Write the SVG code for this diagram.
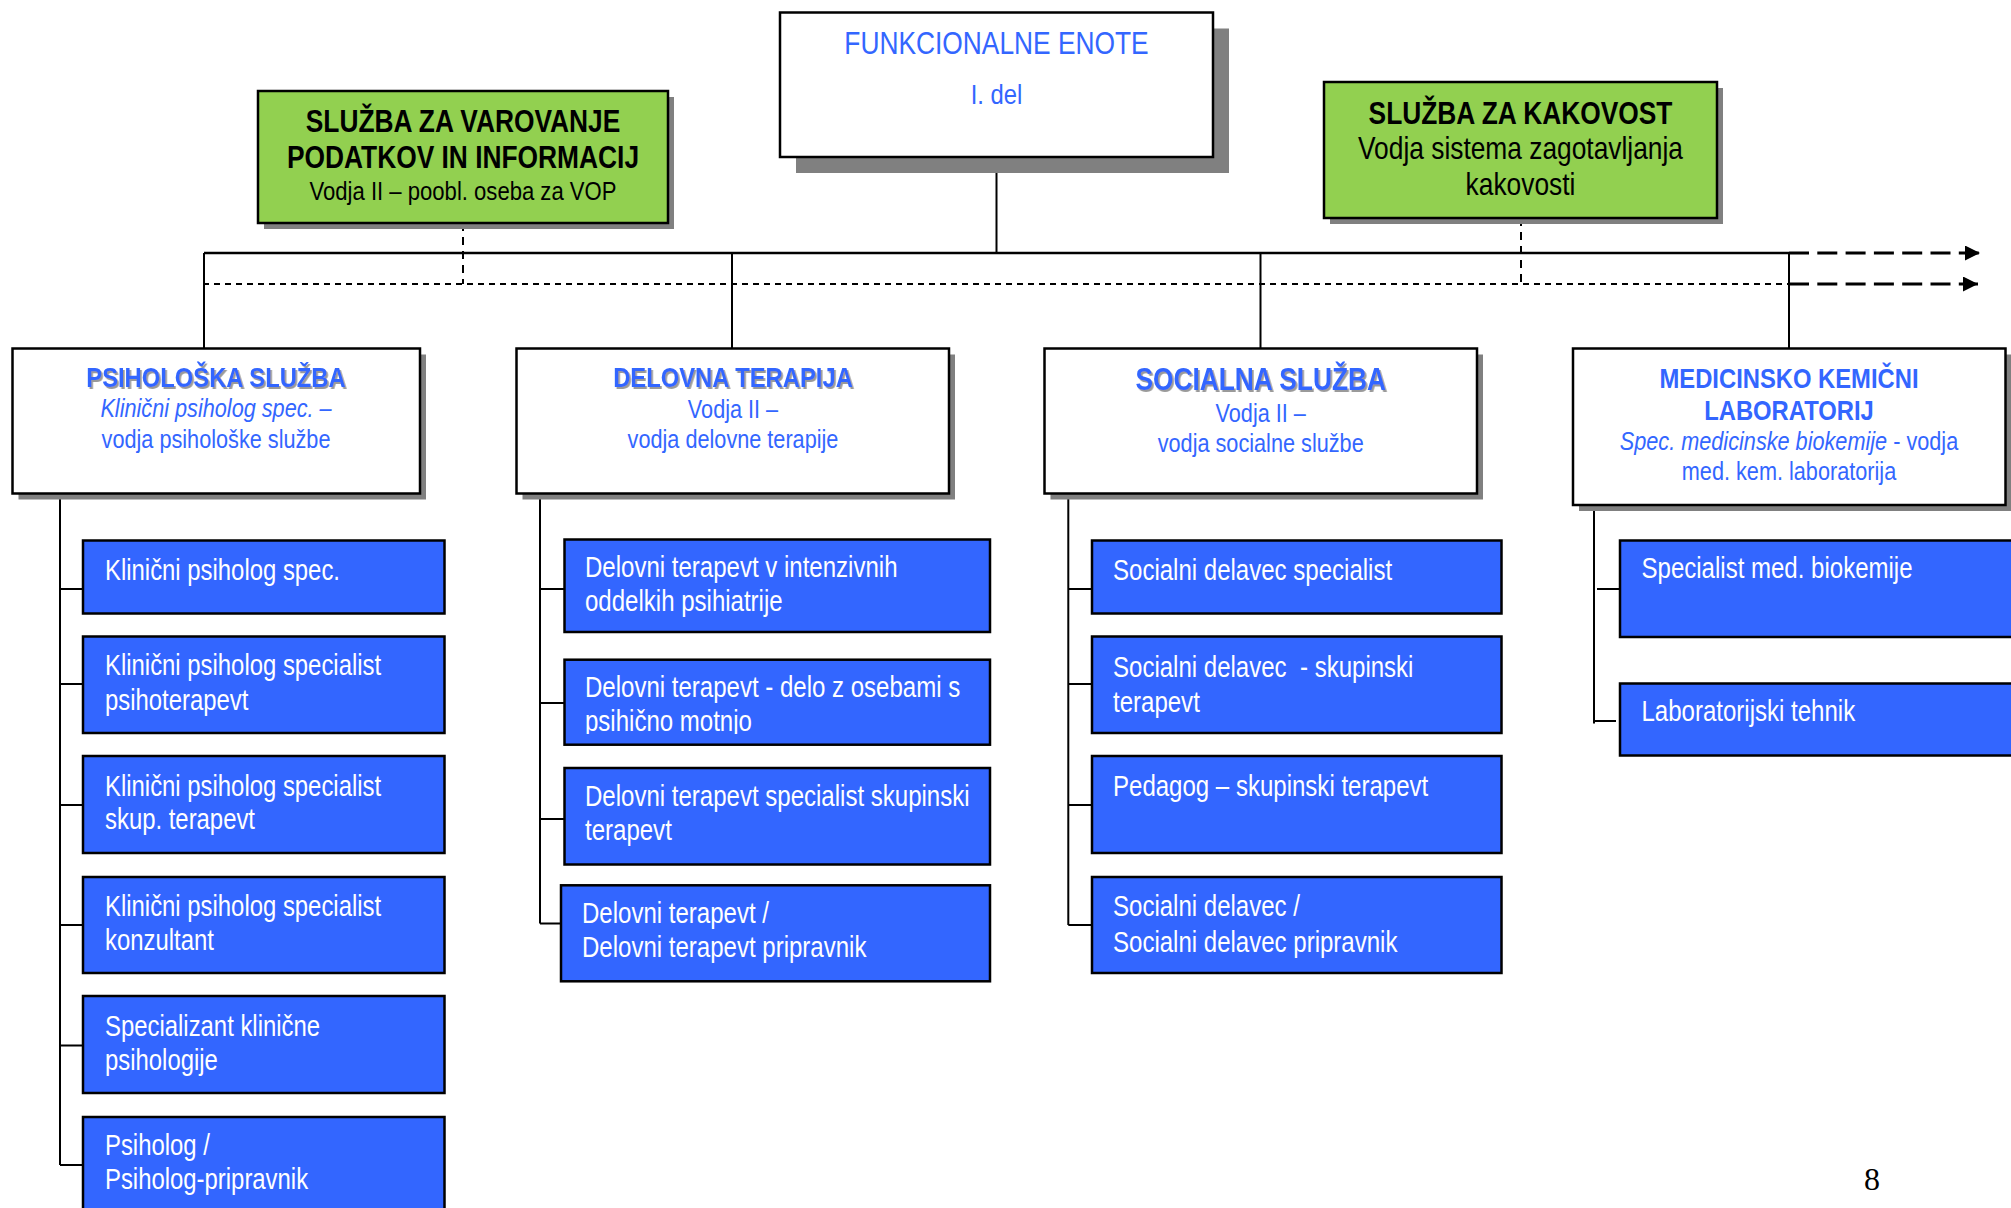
<svg xmlns="http://www.w3.org/2000/svg" width="2011" height="1208" viewBox="0 0 2011 1208">
<style>
.t{font-family:"Liberation Sans",Arial,sans-serif}
.box{fill:#fff;stroke:#000;stroke-width:2.5}
.shd{fill:#808080}
.green{fill:#92D050;stroke:#000;stroke-width:2.5}
.blue{fill:#3366FF;stroke:#000;stroke-width:2.5}
.bt{fill:#3366FF}
.k{fill:#000}
.w{fill:#fff;font-size:29.5px}
.b{font-weight:bold}
.i{font-style:italic}
.ln{stroke:#000;stroke-width:2;fill:none}
.fd{stroke-dasharray:6 5}
.vd{stroke-dasharray:8 6}
.ld{stroke-width:3;stroke-dasharray:20 8.3}
.ts{filter:url(#tsh)}
</style>
<defs>
<marker id="arr" markerUnits="userSpaceOnUse" markerWidth="16" markerHeight="16" refX="15" refY="7.5" orient="auto">
<path d="M0,0 L15,7.5 L0,15 Z" fill="#000"/>
</marker>
<filter id="tsh" x="-5%" y="-20%" width="110%" height="150%">
<feDropShadow dx="2" dy="2" stdDeviation="0.6" flood-color="#9a9a9a" flood-opacity="1"/>
</filter>
<clipPath id="clipD2"><rect x="560" y="655" width="440" height="79"/></clipPath>
</defs>

<g id="connectors">
<line class="ln" x1="996.5" y1="157" x2="996.5" y2="253"/>
<line class="ln" x1="204" y1="253" x2="1789" y2="253" style="stroke-width:2.5"/>
<line class="ln ld" x1="1789" y1="253" x2="1980" y2="253" marker-end="url(#arr)"/>
<line class="ln fd" x1="203" y1="284" x2="1789" y2="284"/>
<line class="ln ld" x1="1789" y1="284" x2="1978" y2="284" marker-end="url(#arr)"/>
<line class="ln vd" x1="463" y1="223" x2="463" y2="284"/>
<line class="ln vd" x1="1521" y1="218" x2="1521" y2="284"/>
<line class="ln" x1="204" y1="253" x2="204" y2="349"/>
<line class="ln" x1="732" y1="253" x2="732" y2="349"/>
<line class="ln" x1="1260.5" y1="253" x2="1260.5" y2="349"/>
<line class="ln" x1="1789" y1="253" x2="1789" y2="349"/>
<path class="ln" d="M60,493 V1165 M60,589 H83 M60,684 H83 M60,805 H83 M60,925 H83 M60,1045.5 H83 M60,1165 H83"/>
<path class="ln" d="M540,493 V923.4 M540,589 H564 M540,703 H564 M540,819 H564 M540,923.4 H561"/>
<path class="ln" d="M1068.3,493 V925 M1068.3,589 H1092 M1068.3,684 H1092 M1068.3,805 H1092 M1068.3,925 H1092"/>
<path class="ln" d="M1594,505 V723.5 M1597,589 H1620 M1593,721 H1616"/>
</g>

<g id="funkcionalne-enote">
<rect class="shd" x="796" y="28.5" width="433" height="144.5"/>
<rect class="box" x="780" y="12.5" width="433" height="144.5"/>
<text class="t bt" font-size="31" text-anchor="middle" transform="translate(996.5 0) scale(0.85 1)" y="54">FUNKCIONALNE ENOTE</text>
<text class="t bt" font-size="28" text-anchor="middle" transform="translate(996.5 0) scale(0.85 1)" y="104">I. del</text>
</g>

<g id="varovanje-podatkov">
<rect class="shd" x="264" y="97" width="410" height="132"/>
<rect class="green" x="258" y="91" width="410" height="132"/>
<g transform="translate(463 0) scale(0.85 1)">
<text class="t k b" font-size="31" text-anchor="middle" x="0" y="131.7">SLUŽBA ZA VAROVANJE</text>
<text class="t k b" font-size="31" text-anchor="middle" x="0" y="168.3">PODATKOV IN INFORMACIJ</text>
<text class="t k" font-size="26" text-anchor="middle" x="0" y="200">Vodja II – poobl. oseba za VOP</text>
</g>
</g>

<g id="kakovost">
<rect class="shd" x="1330" y="88" width="393" height="136"/>
<rect class="green" x="1324" y="82" width="393" height="136"/>
<g transform="translate(1520.5 0) scale(0.85 1)">
<text class="t k b" font-size="31" text-anchor="middle" x="0" y="124">SLUŽBA ZA KAKOVOST</text>
<text class="t k" font-size="31" text-anchor="middle" x="0" y="159.5">Vodja sistema zagotavljanja</text>
<text class="t k" font-size="31" text-anchor="middle" x="0" y="195">kakovosti</text>
</g>
</g>

<g id="psiholoska-sluzba">
<rect class="shd" x="18.5" y="354.5" width="407.5" height="145"/>
<rect class="box" x="12.5" y="348.5" width="407.5" height="145"/>
<g transform="translate(216 0) scale(0.85 1)">
<text class="t bt b ts" font-size="28" text-anchor="middle" x="0" y="386.7">PSIHOLOŠKA SLUŽBA</text>
<text class="t bt i" font-size="25.5" text-anchor="middle" x="0" y="417">Klinični psiholog spec. –</text>
<text class="t bt" font-size="25.5" text-anchor="middle" x="0" y="448">vodja psihološke službe</text>
</g>
</g>

<g id="delovna-terapija">
<rect class="shd" x="522.5" y="354.5" width="432.5" height="145"/>
<rect class="box" x="516.5" y="348.5" width="432.5" height="145"/>
<g transform="translate(733 0) scale(0.85 1)">
<text class="t bt b ts" font-size="28" text-anchor="middle" x="0" y="386.7">DELOVNA TERAPIJA</text>
<text class="t bt" font-size="25.5" text-anchor="middle" x="0" y="418">Vodja II –</text>
<text class="t bt" font-size="25.5" text-anchor="middle" x="0" y="448">vodja delovne terapije</text>
</g>
</g>

<g id="socialna-sluzba">
<rect class="shd" x="1050.5" y="354.5" width="432.5" height="145"/>
<rect class="box" x="1044.5" y="348.5" width="432.5" height="145"/>
<g transform="translate(1260.7 0) scale(0.85 1)">
<text class="t bt b ts" font-size="31" text-anchor="middle" x="0" y="390">SOCIALNA SLUŽBA</text>
<text class="t bt" font-size="25.5" text-anchor="middle" x="0" y="421.7">Vodja II –</text>
<text class="t bt" font-size="25.5" text-anchor="middle" x="0" y="451.7">vodja socialne službe</text>
</g>
</g>

<g id="medicinsko-kemicni-laboratorij">
<rect class="shd" x="1579" y="354.5" width="432.5" height="156.5"/>
<rect class="box" x="1573" y="348.5" width="432.5" height="156.5"/>
<g transform="translate(1789 0) scale(0.85 1)">
<text class="t bt b" font-size="28" text-anchor="middle" x="0" y="388.3">MEDICINSKO KEMIČNI</text>
<text class="t bt b" font-size="28" text-anchor="middle" x="0" y="420">LABORATORIJ</text>
<text class="t bt" font-size="25.5" text-anchor="middle" x="0" y="450"><tspan class="i">Spec. medicinske biokemije</tspan> - vodja</text>
<text class="t bt" font-size="25.5" text-anchor="middle" x="0" y="480">med. kem. laboratorija</text>
</g>
</g>

<g id="psi-1"><rect class="blue" x="83" y="540.5" width="361.5" height="73"/>
<text class="t w" transform="translate(105 0) scale(0.81 1)" y="580">Klinični psiholog spec.</text></g>
<g id="psi-2"><rect class="blue" x="83" y="636.5" width="361.5" height="96.5"/>
<g transform="translate(105 0) scale(0.81 1)"><text class="t w" y="675">Klinični psiholog specialist</text><text class="t w" y="710">psihoterapevt</text></g></g>
<g id="psi-3"><rect class="blue" x="83" y="756" width="361.5" height="97"/>
<g transform="translate(105 0) scale(0.81 1)"><text class="t w" y="796">Klinični psiholog specialist</text><text class="t w" y="829">skup. terapevt</text></g></g>
<g id="psi-4"><rect class="blue" x="83" y="877" width="361.5" height="96"/>
<g transform="translate(105 0) scale(0.81 1)"><text class="t w" y="916">Klinični psiholog specialist</text><text class="t w" y="950">konzultant</text></g></g>
<g id="psi-5"><rect class="blue" x="83" y="996" width="361.5" height="97"/>
<g transform="translate(105 0) scale(0.81 1)"><text class="t w" y="1036">Specializant klinične</text><text class="t w" y="1070">psihologije</text></g></g>
<g id="psi-6"><rect class="blue" x="83" y="1117" width="361.5" height="100"/>
<g transform="translate(105 0) scale(0.81 1)"><text class="t w" y="1155.5">Psiholog /</text><text class="t w" y="1189">Psiholog-pripravnik</text></g></g>

<g id="del-1"><rect class="blue" x="564.5" y="539.5" width="425.5" height="92.5"/>
<g transform="translate(585 0) scale(0.815 1)"><text class="t w" y="577.5">Delovni terapevt v intenzivnih</text><text class="t w" y="611.4">oddelkih psihiatrije</text></g></g>
<g id="del-2"><rect class="blue" x="564.5" y="659.7" width="425.5" height="85"/>
<g clip-path="url(#clipD2)"><g transform="translate(585 0) scale(0.815 1)"><text class="t w" y="697">Delovni terapevt - delo z osebami s</text><text class="t w" y="730.7">psihično motnjo</text></g></g></g>
<g id="del-3"><rect class="blue" x="564.5" y="768" width="425.5" height="96.5"/>
<g transform="translate(585 0) scale(0.815 1)"><text class="t w" y="806.4">Delovni terapevt specialist skupinski</text><text class="t w" y="839.8">terapevt</text></g></g>
<g id="del-4"><rect class="blue" x="561" y="885.3" width="429" height="96"/>
<g transform="translate(582 0) scale(0.815 1)"><text class="t w" y="923.4">Delovni terapevt /</text><text class="t w" y="956.8">Delovni terapevt pripravnik</text></g></g>

<g id="soc-1"><rect class="blue" x="1092" y="540.5" width="409.5" height="73"/>
<text class="t w" transform="translate(1113 0) scale(0.815 1)" y="580">Socialni delavec specialist</text></g>
<g id="soc-2"><rect class="blue" x="1092" y="636.5" width="409.5" height="96.5"/>
<g transform="translate(1113 0) scale(0.815 1)"><text class="t w" y="677" xml:space="preserve">Socialni delavec  - skupinski</text><text class="t w" y="712">terapevt</text></g></g>
<g id="soc-3"><rect class="blue" x="1092" y="756" width="409.5" height="97"/>
<text class="t w" transform="translate(1113 0) scale(0.815 1)" y="795.7">Pedagog – skupinski terapevt</text></g>
<g id="soc-4"><rect class="blue" x="1092" y="877" width="409.5" height="96"/>
<g transform="translate(1113 0) scale(0.815 1)"><text class="t w" y="916.4">Socialni delavec /</text><text class="t w" y="952">Socialni delavec pripravnik</text></g></g>

<g id="lab-1"><rect class="blue" x="1620" y="540.5" width="420" height="96.5"/>
<text class="t w" transform="translate(1641.5 0) scale(0.815 1)" y="578.5">Specialist med. biokemije</text></g>
<g id="lab-2"><rect class="blue" x="1620" y="683.5" width="420" height="72"/>
<text class="t w" transform="translate(1641.5 0) scale(0.815 1)" y="721.5">Laboratorijski tehnik</text></g>

<text id="page-number" x="1872" y="1190" text-anchor="middle" font-family="'Liberation Serif','Times New Roman',serif" font-size="32" fill="#000">8</text>
</svg>
